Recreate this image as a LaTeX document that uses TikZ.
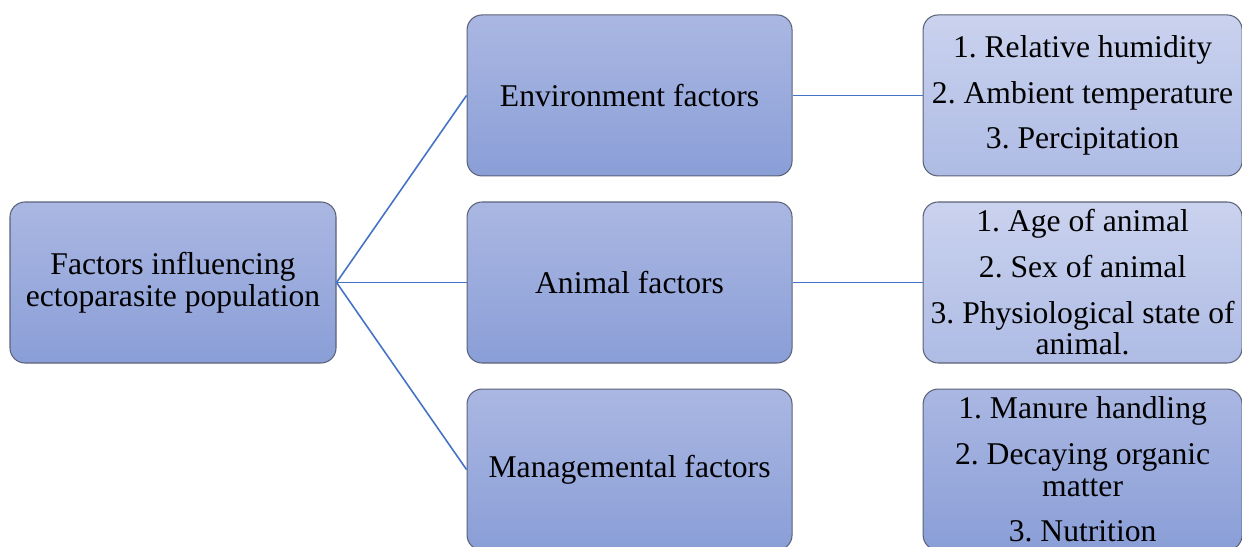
\documentclass[tikz,border=0pt]{standalone}
\usepackage{fontspec}
\setmainfont{Liberation Serif}
\usetikzlibrary{positioning}

\definecolor{boxedge}{HTML}{5B6378}
\definecolor{boxtop}{HTML}{AAB7E2}
\definecolor{boxbot}{HTML}{8A9ED7}
\definecolor{listtop}{HTML}{CAD2EE}
\definecolor{listbot}{HTML}{AEBBE4}
\definecolor{linkblue}{HTML}{4472C4}

\begin{document}
\frenchspacing
\begin{tikzpicture}[node distance=2.6cm,
    box/.style={draw=boxedge, line width=0.6pt, rounded corners=0.3cm,
        minimum width=6.5cm, minimum height=3.22cm, align=center,
        top color=boxtop, bottom color=boxbot,
        font=\fontsize{18}{18}\selectfont},
    list/.style={box, minimum width=6.38cm, inner sep=2pt,
        top color=listtop, bottom color=listbot},
    link/.style={draw=linkblue, line width=0.9pt}]
    \useasboundingbox (0,0) rectangle (24.84,-10.94);

    \node[box, minimum width=6.52cm] (root) at (3.46,-5.65) {Factors influencing\\ectoparasite population};
    \node[box] (animal) [right=of root] {Animal factors};
    \node[box] (env) [above=0.5cm of animal] {Environment factors};
    \node[box] (mgmt) [below=0.5cm of animal] {Managemental factors};

    \node[list] (envlist) [right=of env] {1. Relative humidity\\[8pt]2. Ambient temperature\\[8pt]3. Percipitation};
    \node[list] (animallist) [right=of animal] {1. Age of animal\\[8pt]2. Sex of animal\\[8pt]3. Physiological state of\\animal.};
    \node[list, top color=boxtop, bottom color=boxbot] (mgmtlist) [right=of mgmt] {1. Manure handling\\[8pt]2. Decaying organic\\matter\\[8pt]3. Nutrition};

    \draw[link] (root.east) -- (env.west);
    \draw[link] (root.east) -- (animal.west);
    \draw[link] (root.east) -- (mgmt.west);
    \draw[link] (env.east) -- (envlist.west);
    \draw[link] (animal.east) -- (animallist.west);
\end{tikzpicture}
\end{document}
